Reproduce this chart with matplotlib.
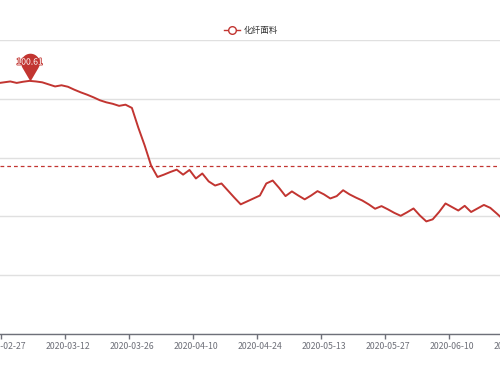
import numpy as np
import pandas as pd
import matplotlib
matplotlib.use("Agg")
import matplotlib.pyplot as plt
from matplotlib.path import Path
from matplotlib.lines import Line2D
import matplotlib.patheffects as pe

plt.rcParams['font.family'] = ['Noto Sans CJK SC', 'DejaVu Sans']

# ---- data ----
series_name = "化纤面料"
holidays = ["2020-04-06", "2020-05-01", "2020-05-04", "2020-05-05"]
dates = [d.strftime("%Y-%m-%d") for d in pd.bdate_range("2020-02-26", "2020-06-24")
         if d.strftime("%Y-%m-%d") not in holidays]
values = [
    100.53, 100.56, 100.59, 100.54, 100.58, 100.61, 100.59, 100.56, 100.49, 100.42,
    100.46, 100.41, 100.31, 100.22, 100.14, 100.05, 99.95, 99.88, 99.83, 99.76,
    99.80, 99.69, 99.02, 98.41, 97.73, 97.34, 97.42, 97.51, 97.59, 97.42,
    97.58, 97.29, 97.46, 97.19, 97.05, 97.12, 96.88, 96.64, 96.41, 96.51,
    96.61, 96.71, 97.12, 97.22, 96.97, 96.69, 96.85, 96.71, 96.58, 96.71,
    96.86, 96.75, 96.61, 96.69, 96.89, 96.75, 96.64, 96.54, 96.41, 96.26,
    96.35, 96.24, 96.12, 96.02, 96.14, 96.27, 96.03, 95.83, 95.90, 96.15,
    96.44, 96.32, 96.20, 96.36, 96.15, 96.27, 96.39, 96.29, 96.10, 95.90,
]
y_ticks = [92, 94, 96, 98, 100, 102]

RED = "#c23531"
AXIS = "#6e7079"
GRID = "#e0e0e0"
LABEL_FS = 6.3
LABEL_PAD = 5.5

fig = plt.figure(figsize=(5, 3.75), dpi=100)
# axes spans the full width (chart is cropped on both sides)
ax = fig.add_axes([0, (375 - 334) / 375, 1, 294 / 375])

x = np.arange(len(values))
ax.plot(x, values, color=RED, lw=1.4, solid_joinstyle="round", zorder=3)

# grid
ax.set_yticks(y_ticks)
ax.yaxis.grid(True, color=GRID, lw=1)
ax.tick_params(axis="y", length=0, labelleft=False)

# x labels at category centres, ticks at boundaries
lab_idx = list(range(1, len(dates), 10))
ax.set_xticks(lab_idx)
ax.set_xticklabels([dates[i] for i in lab_idx], fontsize=LABEL_FS, color=AXIS)
ax.set_xticks([i - 0.5 for i in lab_idx], minor=True)
ax.tick_params(axis="x", which="major", length=0, pad=LABEL_PAD)
ax.tick_params(axis="x", which="minor", length=3.5, width=1, color=AXIS, direction="out")

# x range so that category centres land on the reference pixel positions
ax.set_xlim((0 - 3.9) / 6.4 + 1, (500 - 3.9) / 6.4 + 1)
ax.set_ylim(y_ticks[0], y_ticks[-1])

# labels whose centre lies just beyond the visible range (cropped by the image edge)
xmin, xmax = ax.get_xlim()
for i in lab_idx:
    if i > xmax:
        ax.annotate(dates[i], xy=(i, 0), xycoords=("data", "axes fraction"),
                    xytext=(0, -LABEL_PAD), textcoords="offset points",
                    ha="center", va="top", fontsize=LABEL_FS, color=AXIS,
                    annotation_clip=False)

for s in ["left", "right", "top"]:
    ax.spines[s].set_visible(False)
ax.spines["bottom"].set_color(AXIS)
ax.spines["bottom"].set_linewidth(1)
ax.set_axisbelow(True)

# average mark line
avg = float(np.mean(values))
ax.axhline(avg, color=RED, lw=0.9, ls=(0, (3, 2.4)), zorder=2)

# max mark point (pin)
imax = int(np.argmax(values))
c = 1.98
b = -1 / c
a = np.sqrt(1 - b * b)
ang0 = np.arctan2(b, a)
angs = np.linspace(ang0, np.pi - ang0, 40)
verts = [(0, 0)] + [(np.cos(t), c + np.sin(t)) for t in angs] + [(0, 0)]
codes = [Path.MOVETO] + [Path.LINETO] * (len(verts) - 2) + [Path.CLOSEPOLY]
pin = Path(verts, codes)
ax.plot([imax], [values[imax]], marker=pin, markersize=40, color=RED,
        markeredgewidth=0, zorder=5, clip_on=False)
ax.annotate(f"{values[imax]:.2f}", (imax, values[imax]), xytext=(0, 13.5),
            textcoords="offset points", ha="center", va="center",
            color="white", fontsize=6.2, zorder=6,
            path_effects=[pe.withStroke(linewidth=1.2, foreground=RED)])

# legend
proxy = Line2D([], [], color=RED, lw=1, marker="o", markersize=5.5,
               markerfacecolor="white", markeredgecolor=RED, markeredgewidth=1)
fig.legend([proxy], [series_name], loc="center", bbox_to_anchor=(251 / 500, 1 - 31 / 375),
           frameon=False, fontsize=6.2, handlelength=1.9, handletextpad=0.45,
           borderpad=0, labelcolor="#333333")

fig.savefig("out.png", dpi=100)
